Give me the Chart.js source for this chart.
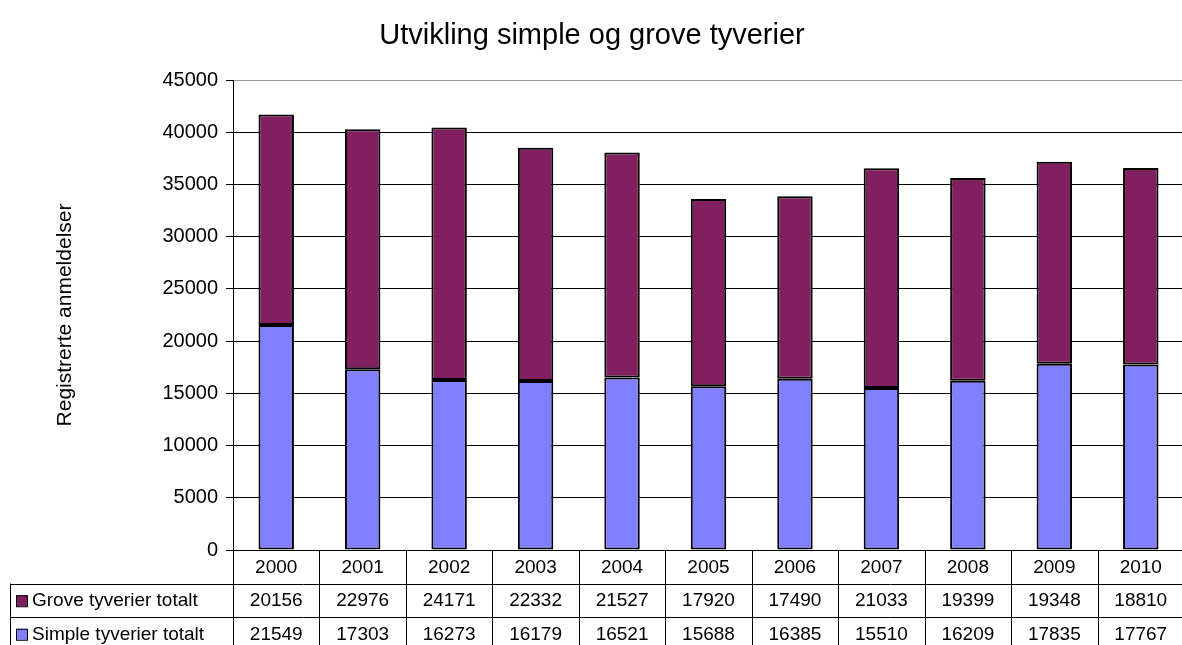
<!DOCTYPE html>
<html>
<head>
<meta charset="utf-8">
<script src="https://cdn.jsdelivr.net/npm/chart.js@4.4.0/dist/chart.umd.min.js"></script>
<style>
html, body { margin: 0; padding: 0; background: #fff; overflow: hidden; }
#wrap { width: 1184px; height: 645px; }
</style>
</head>
<body>
<div id="wrap"><canvas id="tyverier"></canvas></div>
<script>
// data
var years = ["2000", "2001", "2002", "2003", "2004", "2005", "2006", "2007", "2008", "2009", "2010"];
var simple = [21549, 17303, 16273, 16179, 16521, 15688, 16385, 15510, 16209, 17835, 17767];
var grove = [20156, 22976, 24171, 22332, 21527, 17920, 17490, 21033, 19399, 19348, 18810];
var yTicks = [0, 5000, 10000, 15000, 20000, 25000, 30000, 35000, 40000, 45000];

var FONT = "Arial, 'Liberation Sans', sans-serif";
var simpleColor = "#8080FF";
var groveColor = "#80205F";

// data table under the x axis, drawn from the arrays
var dataTable = {
  id: 'dataTable',
  afterDraw: function(chart) {
    var ctx = chart.ctx;
    var x = chart.scales.x;
    var top = chart.chartArea.bottom;
    var rowH = 33.5;
    var step = (x.right - x.left) / years.length;
    var bottom = chart.height;
    var rows = [
      {label: "Grove tyverier totalt", color: groveColor, values: grove},
      {label: "Simple tyverier totalt", color: simpleColor, values: simple}
    ];
    ctx.save();
    ctx.strokeStyle = "#000";
    ctx.lineWidth = 1;
    // vertical lines
    for (var i = 0; i <= years.length; i++) {
      var vx = Math.round(x.left + i * step) + 0.5;
      ctx.beginPath();
      ctx.moveTo(vx, top);
      ctx.lineTo(vx, bottom);
      ctx.stroke();
    }
    // left border of label column
    ctx.beginPath();
    ctx.moveTo(10.5, top + rowH);
    ctx.lineTo(10.5, bottom);
    ctx.stroke();
    // horizontal lines
    for (var r = 1; r <= 2; r++) {
      var hy = Math.round(top + r * rowH) + 0.5;
      ctx.beginPath();
      ctx.moveTo(10, hy);
      ctx.lineTo(chart.width, hy);
      ctx.stroke();
    }
    ctx.fillStyle = "#000";
    ctx.font = "19px " + FONT;
    ctx.textAlign = "center";
    ctx.textBaseline = "middle";
    years.forEach(function(y, i) {
      ctx.fillText(y, x.getPixelForValue(i), top + rowH / 2 + 1);
    });
    rows.forEach(function(row, r) {
      var cy = top + (r + 1) * rowH + rowH / 2 + 1;
      ctx.fillStyle = row.color;
      ctx.fillRect(16, cy - 6, 11, 11);
      ctx.strokeStyle = "#000";
      ctx.strokeRect(16.5, cy - 5.5, 11, 11);
      ctx.fillStyle = "#000";
      ctx.textAlign = "left";
      ctx.fillText(row.label, 32, cy);
      ctx.textAlign = "center";
      row.values.forEach(function(v, i) {
        ctx.fillText(String(v), x.getPixelForValue(i), cy);
      });
    });
    ctx.restore();
  }
};

var ctxB = document.getElementById("tyverier");
var myBarChart = new Chart(ctxB, {
type: 'bar',
data: {
labels: years,
datasets: [{
label: "Simple tyverier totalt",
data: simple,
backgroundColor: simpleColor,
borderColor: "#000",
borderWidth: 2,
borderSkipped: false,
categoryPercentage: 1,
barPercentage: 0.41
}, {
label: "Grove tyverier totalt",
data: grove,
backgroundColor: groveColor,
borderColor: "#000",
borderWidth: 2,
borderSkipped: false,
categoryPercentage: 1,
barPercentage: 0.41
}]
},
plugins: [dataTable],
options: {
responsive: true,
maintainAspectRatio: false,
animation: false,
layout: { padding: 0 },
plugins: {
  legend: { display: false },
  tooltip: { enabled: false },
  title: {
    display: true,
    text: "Utvikling simple og grove tyverier",
    color: "#000",
    font: { family: FONT, size: 29, weight: 'normal' },
    padding: { top: 19, bottom: 26.2 }
  }
},
scales: {
  x: {
    stacked: true,
    grid: { display: false },
    border: { display: true, color: "#000", width: 1 },
    ticks: { display: false },
    afterFit: function(s) { s.height = 95; }
  },
  y: {
    stacked: true,
    min: 0,
    max: 45000,
    afterBuildTicks: function(s) { s.ticks = yTicks.map(function(v) { return {value: v}; }); },
    ticks: {
      color: "#000",
      padding: 8,
      font: { family: FONT, size: 20 },
      callback: function(v) { return String(v); }
    },
    grid: {
      color: function(c) { return c.tick && c.tick.value === 45000 ? "#999" : "#000"; },
      tickColor: "#000",
      tickLength: 7,
      lineWidth: 1
    },
    border: { display: true, color: "#000", width: 1 },
    title: {
      display: true,
      text: "Registrerte anmeldelser",
      color: "#000",
      font: { family: FONT, size: 21 },
      padding: { top: 53, bottom: 0 }
    },
    afterFit: function(s) { s.width = 233; }
  }
}
}
});
</script>
</body>
</html>
